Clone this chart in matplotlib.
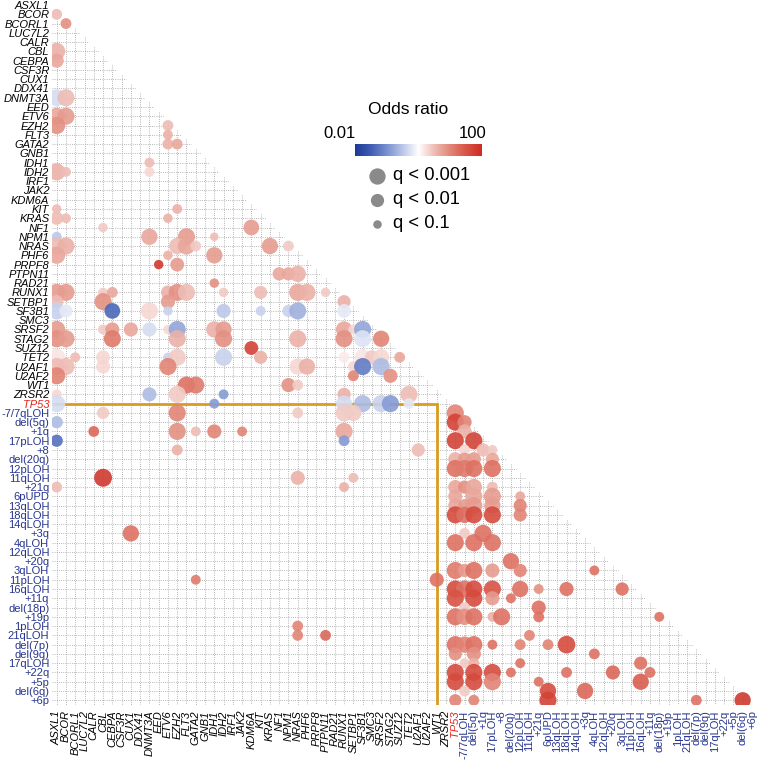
import numpy as np
import matplotlib
matplotlib.use("Agg")
import matplotlib.pyplot as plt
from matplotlib.colors import LinearSegmentedColormap, Normalize
from matplotlib.cm import ScalarMappable
from matplotlib.collections import LineCollection

plt.rcParams['font.family'] = ['Liberation Sans', 'DejaVu Sans']

# ---------------- categories ----------------
genes = ["ASXL1", "BCOR", "BCORL1", "LUC7L2", "CALR", "CBL", "CEBPA", "CSF3R", "CUX1",
         "DDX41", "DNMT3A", "EED", "ETV6", "EZH2", "FLT3", "GATA2", "GNB1", "IDH1", "IDH2",
         "IRF1", "JAK2", "KDM6A", "KIT", "KRAS", "NF1", "NPM1", "NRAS", "PHF6", "PRPF8",
         "PTPN11", "RAD21", "RUNX1", "SETBP1", "SF3B1", "SMC3", "SRSF2", "STAG2", "SUZ12",
         "TET2", "U2AF1", "U2AF2", "WT1", "ZRSR2"]
highlight = ["TP53"]
cyto = ["-7/7qLOH", "del(5q)", "+1q", "17pLOH", "+8", "del(20q)", "12pLOH", "11qLOH", "+21q",
        "6pUPD", "13qLOH", "18qLOH", "14qLOH", "+3q", "4qLOH", "12qLOH", "+20q", "3qLOH",
        "11pLOH", "16qLOH", "+11q", "del(18p)", "+19p", "1pLOH", "21qLOH", "del(7p)",
        "del(9q)", "17qLOH", "+22q", "+5p", "del(6q)", "+6p"]
labels = genes + highlight + cyto

# ---------------- data: per row, partner columns, log10(odds ratio), -log10(q) ----------------
dot_rows = ["BCOR", "BCORL1", "CBL", "CEBPA", "DNMT3A", "ETV6", "EZH2", "FLT3", "GATA2", "IDH1",
            "IDH2", "KIT", "KRAS", "NF1", "NPM1", "NRAS", "PHF6", "PRPF8", "PTPN11", "RAD21",
            "RUNX1", "SETBP1", "SF3B1", "SRSF2", "STAG2", "SUZ12", "TET2", "U2AF1", "U2AF2",
            "WT1", "ZRSR2", "TP53",
            "-7/7qLOH", "del(5q)", "+1q", "17pLOH", "+8", "del(20q)", "12pLOH", "11qLOH",
            "+21q", "6pUPD", "13qLOH", "18qLOH", "+3q", "4qLOH", "+20q", "3qLOH", "11pLOH",
            "16qLOH", "+11q", "del(18p)", "+19p", "1pLOH", "21qLOH", "del(7p)", "del(9q)",
            "17qLOH", "+22q", "+5p", "del(6q)", "+6p"]

dot_cols = [
    ["ASXL1"],
    ["BCOR"],
    ["ASXL1"],
    ["ASXL1"],
    ["ASXL1", "BCOR"],
    ["ASXL1", "BCOR"],
    ["ASXL1", "ETV6"],
    ["ETV6"],
    ["ETV6", "EZH2"],
    ["DNMT3A"],
    ["ASXL1", "BCOR", "DNMT3A"],
    ["ASXL1", "EZH2"],
    ["ASXL1", "BCOR", "ETV6"],
    ["CBL", "KDM6A"],
    ["ASXL1", "DNMT3A", "FLT3", "IDH1"],
    ["ASXL1", "BCOR", "EZH2", "FLT3", "GATA2", "KRAS", "NPM1"],
    ["ASXL1", "ETV6", "IDH1"],
    ["EED", "EZH2"],
    ["NF1", "NPM1", "NRAS"],
    ["IDH1"],
    ["ASXL1", "BCOR", "CBL", "CEBPA", "ETV6", "EZH2", "FLT3", "IDH2", "KIT", "NRAS", "PHF6", "PTPN11"],
    ["ASXL1", "CBL", "ETV6", "RUNX1"],
    ["ASXL1", "BCOR", "CEBPA", "DNMT3A", "ETV6", "IDH2", "KIT", "NPM1", "NRAS", "RUNX1"],
    ["ASXL1", "CBL", "CEBPA", "CUX1", "DNMT3A", "ETV6", "EZH2", "IDH1", "IDH2", "RUNX1", "SETBP1", "SF3B1"],
    ["ASXL1", "BCOR", "CEBPA", "EZH2", "IDH2", "NRAS", "RUNX1", "SF3B1", "SRSF2"],
    ["KDM6A"],
    ["ASXL1", "BCORL1", "CBL", "ETV6", "EZH2", "IDH2", "KIT", "RUNX1", "SF3B1", "SMC3", "SRSF2", "SUZ12"],
    ["ASXL1", "BCOR", "CBL", "ETV6", "NRAS", "PHF6", "SETBP1", "SF3B1", "SRSF2"],
    ["ASXL1", "SETBP1", "STAG2"],
    ["FLT3", "GATA2", "NPM1", "NRAS"],
    ["ASXL1", "DNMT3A", "EZH2", "IDH2", "RUNX1", "TET2"],
    ["ASXL1", "IDH1", "RUNX1", "SF3B1", "SRSF2", "STAG2", "TET2"],
    ["CBL", "EZH2", "NRAS", "RUNX1", "SETBP1", "TP53"],
    ["ASXL1", "TP53", "-7/7qLOH"],
    ["CALR", "EZH2", "GATA2", "IDH1", "JAK2", "RUNX1", "-7/7qLOH"],
    ["ASXL1", "RUNX1", "TP53", "del(5q)"],
    ["EZH2", "U2AF1", "-7/7qLOH", "+1q", "17pLOH"],
    ["TP53", "-7/7qLOH", "del(5q)", "17pLOH"],
    ["TP53", "-7/7qLOH", "del(5q)", "17pLOH"],
    ["CBL", "NRAS", "SETBP1"],
    ["ASXL1", "RUNX1", "TP53", "-7/7qLOH", "del(5q)", "17pLOH"],
    ["TP53", "del(5q)", "17pLOH", "12pLOH"],
    ["TP53", "-7/7qLOH", "del(5q)", "17pLOH", "12pLOH"],
    ["TP53", "-7/7qLOH", "del(5q)", "17pLOH", "12pLOH"],
    ["CUX1", "-7/7qLOH", "+1q"],
    ["TP53", "del(5q)", "17pLOH"],
    ["del(20q)"],
    ["TP53", "-7/7qLOH", "del(5q)", "17pLOH", "12pLOH", "4qLOH"],
    ["GATA2", "WT1"],
    ["TP53", "-7/7qLOH", "del(5q)", "17pLOH", "12pLOH", "+21q", "18qLOH", "3qLOH"],
    ["TP53", "del(5q)", "17pLOH", "del(20q)"],
    ["-7/7qLOH", "+21q"],
    ["TP53", "-7/7qLOH", "del(5q)", "17pLOH", "+8", "+21q", "del(18p)"],
    ["NRAS"],
    ["NRAS", "PTPN11", "11qLOH"],
    ["TP53", "-7/7qLOH", "del(5q)", "17pLOH", "12pLOH", "6pUPD", "18qLOH"],
    ["TP53", "del(5q)", "4qLOH"],
    ["-7/7qLOH", "del(5q)", "12pLOH", "16qLOH"],
    ["TP53", "del(5q)", "17pLOH", "del(20q)", "18qLOH", "+20q", "+11q"],
    ["TP53", "del(5q)", "17pLOH", "+21q", "16qLOH"],
    ["-7/7qLOH", "6pUPD", "+3q"],
    ["TP53", "del(5q)", "6pUPD", "del(7p)", "del(6q)"],
]

dot_log10_or = [
    [0.5], [0.9], [0.6], [0.7], [-0.3, 0.5], [0.7, 0.8], [0.9, 0.5], [0.6], [0.6, 0.7], [0.5],
    [0.6, 0.5, 0.3], [0.5, 0.6], [0.5, 0.5, 0.6], [0.4, 0.8], [-0.5, 0.7, 0.8, 0.5],
    [0.5, 0.6, 0.5, 0.7, 0.4, 0.8, 0.4], [0.7, 0.6, 0.8], [1.8, 0.8], [0.7, 0.7, 0.6], [0.9],
    [0.8, 0.8, 0.4, 0.7, 0.6, 0.9, 0.5, 0.4, 0.5, 0.7, 0.6, 0.4],
    [0.5, 0.9, 0.8, 0.6],
    [-0.4, -0.2, -1.4, 0.3, -0.4, -0.5, -0.4, -0.4, -0.7, -0.2],
    [0.8, 0.4, 0.8, 0.7, -0.3, 0.3, -0.8, 0.6, 0.8, 0.7, 0.3, -0.8],
    [0.9, 0.8, 1.1, 0.6, 0.9, 0.6, 0.9, -0.25, 1.0],
    [1.7],
    [0.2, 0.5, 0.3, -0.4, 0.4, -0.4, 0.6, 0.15, 0.2, 0.4, 0.3, 0.7],
    [0.5, 0.5, 0.3, 1.0, 0.3, 0.6, 0.3, -1.2, -0.6],
    [1.0, 1.0, 0.9],
    [1.2, 1.1, 0.9, 0.4],
    [0.3, -0.6, 0.4, -0.9, 0.6, 0.5],
    [-0.3, -0.9, -0.3, -0.6, -0.4, -0.9, -0.2],
    [0.4, 1.0, 0.4, 0.4, 0.4, 1.0],
    [-0.6, 1.7, 1.0],
    [1.3, 0.9, 0.5, 1.0, 1.0, 0.7, 0.6],
    [-1.3, -0.9, 1.7, 1.7],
    [0.6, 0.5, 0.3, 0.5, 0.4],
    [0.6, 0.8, 0.8, 0.7],
    [1.2, 1.1, 1.2, 1.2],
    [1.8, 0.6, 0.5],
    [0.5, 0.6, 0.7, 0.9, 0.7, 0.5],
    [0.7, 0.7, 0.8, 0.7],
    [0.7, 0.8, 0.8, 0.8, 1.0],
    [1.6, 1.2, 1.6, 1.6, 1.0],
    [1.2, 0.4, 1.2],
    [1.2, 1.2, 1.2],
    [1.2],
    [1.1, 0.8, 1.2, 0.8, 1.0, 1.2],
    [1.1, 1.2],
    [1.6, 1.2, 1.6, 1.5, 1.2, 0.9, 1.2, 1.2],
    [1.5, 1.6, 0.8, 1.2],
    [0.4, 1.2],
    [1.2, 0.9, 1.2, 0.6, 1.2, 1.2, 1.2],
    [1.0],
    [1.0, 1.3, 1.0],
    [1.2, 1.0, 1.2, 1.2, 1.0, 1.0, 1.6],
    [0.9, 0.9, 1.2],
    [0.4, 0.6, 1.2, 1.2],
    [1.6, 1.6, 1.6, 1.2, 1.2, 1.3, 1.2],
    [1.6, 1.6, 1.0, 1.2, 1.4],
    [0.4, 1.6, 1.3],
    [1.0, 1.0, 1.7, 1.2, 1.8],
]

dot_neglog10_q = [
    [1.5], [1.5], [3.3], [2.3], [3.3, 3.3], [3.3, 3.3], [3.3, 1.5], [1.3], [1.5, 1.5], [1.3],
    [3.3, 1.3, 1.3], [1.2, 1.3], [2.0, 1.3, 1.2], [1.2, 2.8], [1.3, 3.0, 3.3, 1.0],
    [3.3, 3.3, 3.0, 3.3, 1.5, 3.0, 1.5], [3.3, 1.2, 3.0], [1.2, 2.2], [2.0, 2.0, 3.0], [1.2],
    [3.3, 3.3, 1.2, 1.5, 2.2, 3.3, 3.3, 1.2, 2.0, 3.3, 3.3, 1.2],
    [2.0, 3.3, 2.3, 2.0],
    [3.3, 2.0, 2.8, 3.3, 1.2, 2.3, 1.3, 1.8, 3.3, 2.2],
    [3.3, 1.3, 2.3, 2.3, 2.3, 1.2, 3.3, 3.0, 3.0, 3.0, 1.3, 3.3],
    [3.3, 3.3, 3.3, 3.3, 3.3, 3.3, 3.3, 3.3, 3.0],
    [2.2],
    [3.3, 1.3, 2.2, 1.2, 3.3, 3.3, 2.0, 1.5, 3.0, 2.3, 3.0, 1.5],
    [3.3, 3.3, 2.2, 3.3, 3.0, 3.0, 1.5, 3.3, 3.3],
    [3.3, 1.5, 2.3],
    [3.3, 3.3, 2.3, 1.5],
    [1.3, 2.3, 3.3, 1.3, 2.0, 3.3],
    [3.3, 1.3, 3.0, 3.3, 3.3, 3.3, 1.5],
    [1.8, 3.3, 1.5, 3.3, 3.0, 3.3],
    [1.8, 3.3, 2.3],
    [1.5, 3.3, 1.3, 2.3, 1.3, 3.3, 2.3],
    [1.8, 1.5, 3.3, 3.3],
    [1.5, 2.0, 1.5, 2.0, 1.3],
    [2.3, 2.0, 2.3, 2.0],
    [3.3, 3.3, 3.3, 3.3],
    [3.6, 2.3, 1.3],
    [1.5, 1.3, 2.3, 2.0, 3.0, 1.5],
    [2.3, 3.3, 3.3, 1.3],
    [2.3, 2.0, 3.3, 3.0, 2.0],
    [3.3, 3.0, 3.3, 3.3, 2.0],
    [3.0, 1.5, 3.3],
    [3.3, 3.3, 3.3],
    [3.0],
    [3.3, 2.0, 3.3, 2.3, 2.0, 1.3],
    [1.3, 2.3],
    [3.3, 3.3, 3.3, 3.3, 3.0, 1.3, 2.3, 2.0],
    [3.3, 3.3, 2.3, 1.3],
    [1.5, 2.3],
    [3.3, 3.0, 3.3, 1.3, 3.3, 1.5, 1.3],
    [1.5],
    [1.5, 1.5, 1.5],
    [3.3, 3.0, 3.3, 1.3, 1.5, 1.5, 3.5],
    [2.0, 2.3, 1.5],
    [1.3, 1.5, 1.3, 2.0],
    [3.3, 3.3, 3.3, 1.3, 1.5, 2.3, 1.5],
    [3.3, 3.3, 3.3, 1.3, 3.0],
    [1.5, 3.0, 3.0],
    [1.8, 1.5, 3.3, 1.5, 3.0],
]

legend_q_labels = ["q < 0.001", "q < 0.01", "q < 0.1"]
legend_q_levels = [3, 2, 1]
colorbar_labels = ["0.01", "100"]

# ---------------- styling helpers ----------------
cmap = LinearSegmentedColormap.from_list(
    "or_cmap", [(0.0, "#1c3a94"), (0.125, "#3f5db3"), (0.25, "#7990d0"), (0.375, "#bac7e8"),
                (0.5, "#ffffff"), (0.625, "#eebdb5"), (0.75, "#e18577"),
                (0.875, "#d75446"), (1.0, "#cc2b22")])
norm = Normalize(-2, 2)
DPI = 100


def marker_area(nlq):
    d_px = np.interp(nlq, [1, 2, 3, 4], [8.5, 13.2, 16.3, 19.0])
    return (d_px * 72.0 / DPI) ** 2


fig = plt.figure(figsize=(7.57, 7.62), dpi=DPI)
ax = fig.add_axes([0.06878, 0.07494, 0.93065, 0.92454])
n = len(labels)
ax.set_xlim(-0.5, n - 0.5)
ax.set_ylim(n - 0.5, -0.5)
for s in ax.spines.values():
    s.set_visible(False)

# dotted lower-triangle grid
segs = []
for i in range(1, n):
    segs.append([(-0.5, i), (i - 0.5, i)])
for j in range(n - 1):
    segs.append([(j, j + 0.5), (j, n - 0.5)])
ax.add_collection(LineCollection(segs, colors="#a0a0a0", linewidths=0.6,
                                 linestyles=(0, (1, 1.6)), zorder=1))

# highlight line for TP53
tp = labels.index("TP53")
wt = labels.index("WT1")
ax.plot([-0.5, wt, wt], [tp, tp, n - 0.5], color="#d99c1f", lw=2.0, zorder=2,
        solid_capstyle="butt", solid_joinstyle="miter")

# dots
xs, ys, cs, ss = [], [], [], []
for r, cols, ors, qs in zip(dot_rows, dot_cols, dot_log10_or, dot_neglog10_q):
    for c, o, q in zip(cols, ors, qs):
        xs.append(labels.index(c))
        ys.append(labels.index(r))
        cs.append(o)
        ss.append(marker_area(q))
ax.scatter(xs, ys, c=cs, s=ss, cmap=cmap, norm=norm, alpha=0.9, linewidths=0, zorder=3)

# tick labels
ax.set_xticks(range(n))
ax.set_yticks(range(n))
ax.set_xticklabels(labels, rotation=90, fontsize=8.0)
ax.set_yticklabels(labels, fontsize=8.0)
ax.tick_params(axis="both", length=0)
ax.tick_params(axis="y", pad=2)
ax.tick_params(axis="x", pad=4)
for tl in ax.get_xticklabels() + ax.get_yticklabels():
    t = tl.get_text()
    if t in genes:
        tl.set_fontstyle("italic")
        tl.set_color("black")
    elif t in highlight:
        tl.set_fontstyle("italic")
        tl.set_color("#e3261c")
    else:
        tl.set_color("#27358f")

# legend overlay (pixel coordinates)
lax = fig.add_axes([0, 0, 1, 1], zorder=5)
lax.set_xlim(0, 757)
lax.set_ylim(762, 0)
lax.axis("off")
lax.patch.set_alpha(0)
lax.text(408, 110, "Odds ratio", ha="center", va="center", fontsize=12.5)
lax.text(340, 133, colorbar_labels[0], ha="center", va="center", fontsize=12)
lax.text(473, 133, colorbar_labels[1], ha="center", va="center", fontsize=12)
for k, (lab, lvl) in enumerate(zip(legend_q_labels, legend_q_levels)):
    yy = [176, 200, 224][k]
    lax.scatter([377], [yy], s=marker_area(lvl), color="#8a8a8a", linewidths=0)
    lax.text(393, yy, lab, ha="left", va="center", fontsize=13.2)

cax = fig.add_axes([355 / 757, 1 - 156 / 762, 127 / 757, 12 / 762])
cb = fig.colorbar(ScalarMappable(norm=norm, cmap=cmap), cax=cax, orientation="horizontal")
cb.set_ticks([])
cb.outline.set_visible(False)

fig.savefig("out.png", dpi=DPI)
